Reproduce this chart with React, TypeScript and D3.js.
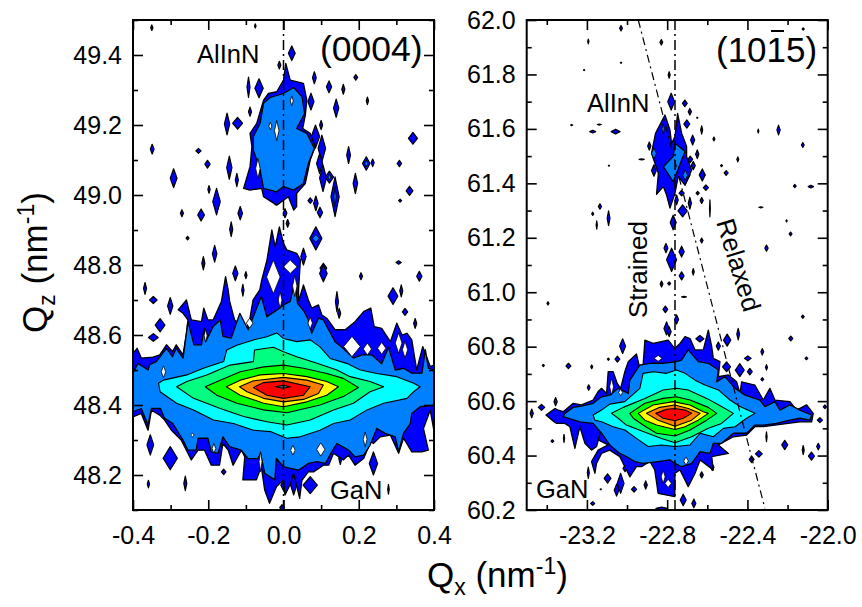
import { useEffect, useRef } from 'react'
import * as d3 from 'd3'

type Pt = [number, number]
type Speck = [number, number, number, number]

const levelColors = ['#0000ff', '#0080ff', '#00ffff', '#00ff80', '#00ff00', '#ffff00', '#ff8000', '#ff0000', '#808080']

// (0004) panel, contour outlines, [Qx, Qz]
const sym0Blue: Pt[] = [[-.4,48.548],[-.389,48.562],[-.378,48.534],[-.347,48.537],[-.329,48.543],[-.311,48.572],[-.295,48.553],[-.285,48.572],[-.267,48.543],[-.258,48.605],[-.254,48.643],[-.267,48.662],[-.28,48.672],[-.258,48.7],[-.245,48.643],[-.218,48.638],[-.212,48.677],[-.201,48.643],[-.187,48.643],[-.165,48.696],[-.154,48.767],[-.147,48.729],[-.143,48.696],[-.13,48.643],[-.099,48.619],[-.09,48.643],[-.081,48.7],[-.063,48.729],[-.058,48.757],[-.044,48.814],[-.031,48.9],[-.022,48.852],[-.011,48.909],[0,48.862],[.009,48.843],[.035,48.833],[.045,48.815],[.04,48.729],[.04,48.696],[.053,48.743],[.066,48.7],[.075,48.677],[.093,48.686],[.102,48.657],[.115,48.648],[.137,48.615],[.164,48.615],[.19,48.638],[.213,48.667],[.232,48.677],[.241,48.624],[.261,48.619],[.284,48.581],[.301,48.634],[.315,48.6],[.328,48.605],[.341,48.586],[.354,48.5],[.37,48.567],[.39,48.51],[.401,48.515],[.401,48.319],[.39,48.385],[.372,48.333],[.385,48.271],[.368,48.266],[.341,48.266],[.319,48.305],[.306,48.262],[.284,48.314],[.257,48.309],[.239,48.29],[.232,48.295],[.213,48.247],[.19,48.228],[.173,48.257],[.159,48.243],[.133,48.262],[.12,48.228],[.106,48.228],[.08,48.209],[.066,48.209],[.049,48.185],[.043,48.133],[.027,48.205],[.019,48.176],[.004,48.143],[0,48.186],[-.019,48.166],[-.037,48.119],[-.05,48.157],[-.059,48.224],[-.072,48.186],[-.108,48.186],[-.103,48.252],[-.112,48.271],[-.134,48.228],[-.147,48.271],[-.161,48.29],[-.17,48.228],[-.192,48.228],[-.21,48.271],[-.227,48.271],[-.245,48.243],[-.272,48.3],[-.298,48.328],[-.316,48.357],[-.329,48.371],[-.351,48.385],[-.36,48.328],[-.378,48.376],[-.4,48.366]]
const sym0Light: Pt[] = [[-.4,48.491],[-.387,48.519],[-.36,48.5],[-.356,48.515],[-.338,48.524],[-.311,48.562],[-.295,48.538],[-.285,48.562],[-.267,48.534],[-.254,48.638],[-.238,48.572],[-.218,48.572],[-.211,48.619],[-.207,48.581],[-.187,48.624],[-.168,48.643],[-.161,48.596],[-.139,48.591],[-.116,48.662],[-.094,48.615],[-.059,48.71],[-.044,48.652],[-.018,48.671],[0,48.686],[.018,48.696],[.031,48.757],[.037,48.691],[.055,48.667],[.066,48.643],[.075,48.605],[.093,48.648],[.106,48.643],[.137,48.581],[.158,48.562],[.186,48.534],[.208,48.543],[.235,48.543],[.261,48.518],[.279,48.565],[.297,48.5],[.319,48.505],[.341,48.491],[.368,48.491],[.377,48.558],[.385,48.505],[.4,48.5],[.401,48.4],[.363,48.395],[.341,48.376],[.337,48.347],[.319,48.319],[.306,48.266],[.297,48.309],[.27,48.319],[.248,48.333],[.23,48.285],[.213,48.257],[.19,48.252],[.173,48.271],[.142,48.29],[.128,48.266],[.111,48.233],[.089,48.238],[.066,48.233],[.04,48.214],[.018,48.219],[0,48.224],[-.019,48.247],[-.023,48.186],[-.05,48.205],[-.061,48.262],[-.068,48.247],[-.094,48.247],[-.112,48.271],[-.143,48.281],[-.161,48.309],[-.174,48.262],[-.192,48.266],[-.201,48.305],[-.227,48.305],[-.232,48.271],[-.254,48.271],[-.267,48.3],[-.294,48.347],[-.316,48.362],[-.327,48.39],[-.351,48.39],[-.36,48.343],[-.378,48.39],[-.4,48.381]]
const sym0Cyan: Pt[] = [[-.332,48.462],[-.319,48.471],[-.257,48.486],[-.213,48.505],[-.159,48.524],[-.151,48.557],[-.124,48.571],[-.08,48.586],[-.044,48.595],[-.018,48.606],[0,48.59],[.035,48.581],[.071,48.586],[.097,48.566],[.124,48.533],[.168,48.519],[.204,48.5],[.248,48.49],[.301,48.481],[.346,48.462],[.363,48.452],[.346,48.438],[.328,48.419],[.266,48.405],[.222,48.386],[.177,48.357],[.133,48.347],[.097,48.328],[.044,48.309],[.009,48.305],[-.035,48.324],[-.08,48.328],[-.133,48.347],[-.186,48.357],[-.239,48.386],[-.284,48.405],[-.328,48.438]]
const sym0Lime: Pt[] = [[-.284,48.452],[-.257,48.467],[-.204,48.486],[-.142,48.514],[-.08,48.524],[-.077,48.557],[-.027,48.565],[0,48.552],[.035,48.538],[.089,48.519],[.142,48.5],[.177,48.481],[.23,48.467],[.266,48.452],[.23,48.438],[.186,48.405],[.133,48.386],[.071,48.357],[.009,48.343],[-.044,48.352],[-.106,48.367],[-.168,48.39],[-.239,48.419]]
const sym0Green: Pt[] = [[-.208,48.452],[-.168,48.471],[-.115,48.495],[-.053,48.509],[0,48.514],[.053,48.505],[.115,48.49],[.159,48.476],[.199,48.45],[.159,48.424],[.097,48.4],[.009,48.378],[-.053,48.386],[-.124,48.405],[-.177,48.428]]
const sym0Yellow: Pt[] = [[-.152,48.452],[-.115,48.471],[-.062,48.486],[0,48.49],[.062,48.481],[.115,48.467],[.146,48.452],[.115,48.428],[.062,48.409],[0,48.395],[-.053,48.405],[-.115,48.428]]
const sym0Orange: Pt[] = [[-.117,48.452],[-.08,48.469],[0,48.479],[.062,48.471],[.106,48.457],[.093,48.433],[.053,48.416],[0,48.409],[-.053,48.419],[-.097,48.438]]
const sym0Red: Pt[] = [[-.08,48.45],[-.053,48.464],[0,48.469],[.071,48.452],[.053,48.428],[0,48.419],[-.044,48.428]]
const sym0Peak: Pt[] = [[-.022,48.452],[0,48.456],[.018,48.452],[0,48.448]]
const sym0LayerBlue: Pt[] = [[.006,49.376],[.018,49.328],[.053,49.319],[.062,49.271],[.058,49.228],[.051,49.19],[.071,49.176],[.084,49.138],[.071,49.1],[.058,49.033],[.035,49.005],[.035,48.967],[.027,48.957],[.013,48.995],[-.018,48.971],[-.053,48.995],[-.058,49.019],[-.089,49.014],[-.106,49.019],[-.089,49.081],[-.084,49.138],[-.089,49.176],[-.071,49.205],[-.053,49.271],[-.04,49.29],[-.018,49.295],[0,49.328]]
const sym0LayerLight: Pt[] = [[-.053,49.262],[-.035,49.279],[0,49.29],[.027,49.307],[.049,49.281],[.056,49.233],[.035,49.19],[.062,49.176],[.082,49.133],[.066,49.09],[.053,49.033],[.027,49.014],[0,49.024],[-.018,49.009],[-.053,49.019],[-.062,49.071],[-.08,49.128],[-.08,49.167],[-.062,49.205]]

// isolated noise islands as [Qx, Qz, half width, half height]
const sym0Specks: Speck[] = [[-.35,49.478,.003,.008],[-.075,49.483,.002,.006],[.022,49.405,.009,.021],[-.011,49.371,.004,.011],[.082,49.335,.005,.017],[.121,49.309,.007,.017],[.159,49.302,.004,.014],[.192,49.336,.005,.008],[.223,49.269,.003,.011],[.14,49.248,.007,.026],[-.093,49.308,.004,.029],[-.065,49.305,.011,.027],[.073,49.267,.008,.024],[-.15,49.203,.007,.031],[-.122,49.205,.013,.017],[-.089,49.238,.004,.013],[.1,49.2,.004,.013],[.085,49.167,.011,.033],[.102,49.133,.01,.038],[.344,49.162,.012,.017],[-.349,49.131,.005,.014],[-.226,49.126,.007,.007],[-.202,49.088,.007,.011],[-.144,49.078,.007,.033],[-.124,49.043,.004,.019],[-.292,49.048,.009,.027],[.173,49.114,.005,.024],[.22,49.09,.01,.019],[.237,49.092,.004,.011],[.308,49.09,.006,.009],[.096,49.09,.008,.029],[.105,49.048,.009,.038],[.122,49.051,.011,.017],[.137,48.995,.011,.057],[.191,49.033,.006,.029],[.335,49.012,.009,.013],[.31,48.984,.004,.004],[-.198,49.016,.003,.011],[-.178,48.981,.01,.038],[-.27,48.948,.004,.01],[-.219,48.943,.009,.017],[-.115,48.948,.006,.019],[-.139,48.902,.004,.021],[-.255,48.877,.004,.005],[.071,48.984,.006,.008],[.086,48.976,.006,.021],[.097,48.95,.007,.015],[-.022,48.986,.005,.014],[.004,48.948,.005,.013],[.011,48.919,.004,.011],[.086,48.876,.016,.033],[.053,48.824,.007,.024],[-.183,48.832,.006,.024],[-.213,48.805,.004,.019],[.306,48.807,.007,.005],[.106,48.791,.009,.014],[-.368,48.733,.004,.017],[-.346,48.7,.01,.01],[-.301,48.683,.007,.024],[-.128,48.776,.007,.021],[-.1,48.771,.003,.01],[-.108,48.728,.003,.017],[.106,48.776,.01,.024],[.206,48.768,.004,.01],[.361,48.768,.007,.014],[.313,48.726,.004,.017],[.291,48.711,.013,.024],[.323,48.666,.007,.01],[.35,48.633,.004,.014],[.142,48.695,.004,.029],[.148,48.662,.004,.014],[-.328,48.628,.013,.019],[-.346,48.593,.013,.011],[-.354,48.286,.009,.029],[-.301,48.248,.019,.033],[.239,48.233,.011,.033],[-.159,48.209,.006,.008],[-.359,48.174,.003,.011],[-.261,48.176,.004,.021],[.071,48.171,.019,.024],[.279,48.159,.002,.014],[-.004,48.107,.006,.008],[.151,48.247,.004,.017],[.027,48.181,.011,.038],[.004,48.171,.011,.024]]
const sym0Inner: Speck[] = [[.22,49.09,.004,.01],[.122,49.051,.004,.008],[.086,48.876,.009,.011],[.137,48.995,.003,.029]]
const sym0Holes: Speck[] = [[.022,49.269,.004,.014],[-.035,49.197,.004,.011],[-.018,49.184,.006,.029],[-.068,49.076,.006,.029],[-.319,48.495,.006,.017],[-.242,48.314,.005,.005],[-.185,48.276,.005,.014],[-.061,48.238,.004,.029],[.025,48.271,.006,.014],[.099,48.273,.011,.019],[.217,48.302,.005,.021],[.182,48.567,.022,.029],[.223,48.56,.011,.017],[.261,48.562,.011,.017],[.306,48.577,.009,.029],[.323,48.558,.007,.024],[.071,48.634,.006,.017],[-.207,48.598,.004,.019],[-.09,48.634,.009,.014],[-.027,48.766,.018,.048],[.018,48.795,.018,.019],[.03,48.74,.006,.03],[-.009,48.7,.005,.024]]

// (10-15) panel
const asymBlue: Pt[] = [[-23.404,60.549],[-23.359,60.573],[-23.343,60.567],[-23.318,60.561],[-23.268,60.592],[-23.227,60.586],[-23.169,60.604],[-23.144,60.635],[-23.127,60.647],[-23.102,60.628],[-23.094,60.708],[-23.069,60.708],[-23.049,60.665],[-23.032,60.647],[-23.011,60.708],[-22.994,60.745],[-22.953,60.773],[-22.94,60.732],[-22.92,60.732],[-22.911,60.824],[-22.87,60.812],[-22.795,60.824],[-22.762,60.794],[-22.736,60.812],[-22.711,60.837],[-22.686,60.83],[-22.661,60.788],[-22.62,60.788],[-22.595,60.861],[-22.578,60.8],[-22.57,60.757],[-22.537,60.745],[-22.545,60.69],[-22.495,60.696],[-22.454,60.671],[-22.437,60.628],[-22.429,60.671],[-22.363,60.659],[-22.321,60.604],[-22.288,60.647],[-22.263,60.604],[-22.188,60.598],[-22.155,60.567],[-22.105,60.586],[-22.072,60.555],[-22.08,60.524],[-22.138,60.524],[-22.197,60.518],[-22.263,60.512],[-22.321,60.506],[-22.363,60.506],[-22.404,60.475],[-22.47,60.469],[-22.545,60.439],[-22.495,60.408],[-22.578,60.396],[-22.57,60.347],[-22.636,60.384],[-22.661,60.335],[-22.695,60.286],[-22.736,60.347],[-22.761,60.335],[-22.762,60.249],[-22.845,60.261],[-22.862,60.347],[-22.886,60.378],[-22.928,60.359],[-22.953,60.359],[-22.986,60.322],[-23.011,60.359],[-23.036,60.396],[-23.086,60.42],[-23.127,60.408],[-23.152,60.371],[-23.16,60.335],[-23.177,60.378],[-23.144,60.42],[-23.094,60.439],[-23.144,60.457],[-23.127,60.5],[-23.152,60.433],[-23.177,60.42],[-23.21,60.445],[-23.235,60.506],[-23.26,60.426],[-23.285,60.506],[-23.31,60.518],[-23.351,60.518],[-23.364,60.524]]
const asymLight: Pt[] = [[-23.31,60.555],[-23.268,60.577],[-23.227,60.582],[-23.169,60.592],[-23.127,60.616],[-23.086,60.622],[-23.044,60.647],[-22.994,60.628],[-22.986,60.677],[-22.936,60.732],[-22.886,60.739],[-22.82,60.739],[-22.754,60.745],[-22.728,60.751],[-22.695,60.788],[-22.645,60.745],[-22.595,60.739],[-22.545,60.714],[-22.553,60.671],[-22.512,60.69],[-22.462,60.647],[-22.412,60.622],[-22.338,60.604],[-22.313,60.58],[-22.263,60.598],[-22.238,60.567],[-22.188,60.586],[-22.138,60.567],[-22.08,60.549],[-22.089,60.53],[-22.138,60.537],[-22.188,60.53],[-22.255,60.518],[-22.321,60.512],[-22.363,60.512],[-22.404,60.482],[-22.47,60.482],[-22.529,60.445],[-22.57,60.445],[-22.587,60.408],[-22.636,60.414],[-22.678,60.371],[-22.728,60.359],[-22.761,60.371],[-22.787,60.384],[-22.845,60.378],[-22.92,60.371],[-22.961,60.378],[-23.003,60.396],[-23.036,60.408],[-23.086,60.439],[-23.127,60.482],[-23.169,60.518],[-23.235,60.524],[-23.318,60.543]]
const asymCyan: Pt[] = [[-23.169,60.549],[-23.127,60.567],[-23.086,60.589],[-23.011,60.598],[-22.936,60.647],[-22.92,60.702],[-22.87,60.708],[-22.803,60.702],[-22.754,60.714],[-22.711,60.702],[-22.661,60.677],[-22.612,60.659],[-22.545,60.641],[-22.487,60.604],[-22.437,60.58],[-22.363,60.555],[-22.404,60.537],[-22.462,60.506],[-22.52,60.5],[-22.57,60.469],[-22.636,60.482],[-22.686,60.439],[-22.761,60.433],[-22.828,60.439],[-22.895,60.433],[-22.953,60.463],[-23.011,60.494],[-23.069,60.506],[-23.127,60.524],[-23.16,60.53]]
const asymLime: Pt[] = [[-23.077,60.555],[-23.019,60.577],[-22.911,60.61],[-22.82,60.641],[-22.754,60.647],[-22.695,60.641],[-22.603,60.61],[-22.529,60.58],[-22.47,60.555],[-22.529,60.518],[-22.595,60.5],[-22.678,60.469],[-22.761,60.447],[-22.828,60.463],[-22.92,60.488],[-23.003,60.512],[-23.044,60.537]]
const asymGreen: Pt[] = [[-22.986,60.555],[-22.911,60.592],[-22.82,60.61],[-22.754,60.616],[-22.686,60.604],[-22.595,60.577],[-22.553,60.555],[-22.603,60.53],[-22.686,60.494],[-22.761,60.472],[-22.853,60.482],[-22.92,60.512],[-22.969,60.537]]
const asymYellow: Pt[] = [[-22.944,60.555],[-22.87,60.586],[-22.77,60.598],[-22.686,60.586],[-22.62,60.561],[-22.595,60.555],[-22.645,60.53],[-22.711,60.506],[-22.761,60.496],[-22.853,60.512],[-22.911,60.53]]
const asymOrange: Pt[] = [[-22.903,60.555],[-22.837,60.577],[-22.762,60.586],[-22.695,60.573],[-22.636,60.555],[-22.678,60.53],[-22.761,60.508],[-22.845,60.53]]
const asymRed: Pt[] = [[-22.857,60.555],[-22.803,60.57],[-22.762,60.573],[-22.711,60.567],[-22.678,60.555],[-22.72,60.537],[-22.761,60.528],[-22.82,60.537]]
const asymLayerBlue: Pt[] = [[-22.858,61.584],[-22.811,61.651],[-22.786,61.596],[-22.778,61.547],[-22.761,61.572],[-22.748,61.657],[-22.728,61.584],[-22.703,61.535],[-22.703,61.498],[-22.678,61.449],[-22.711,61.394],[-22.745,61.425],[-22.761,61.364],[-22.786,61.309],[-22.803,61.357],[-22.819,61.388],[-22.853,61.36],[-22.844,61.437],[-22.878,61.51]]
const asymLayerLight: Pt[] = [[-22.761,61.547],[-22.711,61.517],[-22.728,61.486],[-22.77,61.406],[-22.819,61.461],[-22.77,61.498]]
const asymSpecks: Speck[] = [[-23.03,61.97,.007,.01],[-23.193,61.921,.003,.009],[-22.829,61.918,.007,.01],[-23.03,61.843,.003,.002],[-23.214,61.816,.003,.002],[-22.79,61.798,.005,.012],[-22.122,61.967,.005,.004],[-22.78,61.7,.017,.031],[-22.712,61.694,.012,.012],[-22.687,61.663,.008,.012],[-22.65,61.641,.003,.002],[-22.702,61.618,.015,.015],[-22.628,61.596,.005,.015],[-23.276,61.614,.005,.002],[-23.171,61.59,.015,.005],[-23.138,61.616,.01,.002],[-23.057,61.59,.022,.009],[-22.346,61.592,.003,.007],[-22.245,61.596,.008,.018],[-22.567,61.563,.005,.007],[-22.124,61.541,.007,.009],[-22.889,61.537,.008,.015],[-22.673,61.559,.01,.018],[-22.65,61.507,.008,.016],[-22.927,61.488,.013,.002],[-22.448,61.488,.005,.009],[-23.09,61.465,.003,.002],[-22.685,61.488,.012,.012],[-22.67,61.465,.01,.015],[-22.529,61.465,.005,.004],[-22.506,61.438,.01,.009],[-22.866,61.447,.012,.021],[-22.625,61.431,.015,.022],[-22.711,61.431,.025,.037],[-22.607,61.384,.013,.01],[-22.164,61.39,.007,.006],[-22.084,61.388,.013,.005],[-22.648,61.364,.008,.006],[-22.628,61.337,.008,.011],[-22.728,61.364,.013,.01],[-22.753,61.339,.008,.018],[-22.687,61.327,.008,.022],[-22.723,61.299,.023,.022],[-22.587,61.308,.002,.031],[-23.135,61.315,.008,.01],[-23.171,61.288,.005,.006],[-23.092,61.272,.007,.027],[-23.151,61.247,.003,.015],[-22.77,61.256,.015,.027],[-22.333,61.312,.01,.002],[-22.205,61.262,.003,.004],[-22.185,61.214,.007,.007],[-22.628,61.19,.007,.009],[-22.305,61.162,.008,.011],[-22.806,61.162,.01,.017],[-22.778,61.119,.025,.043],[-22.728,61.149,.013,.02],[-22.728,61.06,.012,.015],[-22.67,61.075,.005,.012],[-22.828,61.03,.007,.011],[-22.79,61.032,.007,.006],[-22.716,60.983,.012,.002],[-23.394,60.959,.005,.006],[-22.809,60.937,.012,.012],[-22.753,60.9,.01,.017],[-22.803,60.867,.013,.024],[-22.79,60.855,.01,.018],[-22.446,60.846,.007,.021],[-22.637,60.829,.02,.012],[-22.501,60.824,.018,.022],[-22.545,60.802,.01,.015],[-23.022,60.802,.015,.027],[-23.048,60.754,.012,.011],[-23.093,60.754,.005,.004],[-22.184,60.83,.01,.009],[-22.124,60.91,.007,.006],[-22.106,60.757,.007,.005],[-22.326,60.781,.007,.012],[-22.398,60.757,.017,.009],[-23.292,60.729,.012,.01],[-23.417,60.731,.005,.004],[-23.176,60.726,.005,.007],[-22.504,60.726,.02,.018],[-22.438,60.714,.022,.024],[-22.388,60.708,.012,.012],[-22.305,60.724,.005,.01],[-22.326,60.68,.007,.006],[-23.191,60.65,.007,.01],[-23.475,60.555,.008,.016],[-23.426,60.577,.016,.011],[-23.356,60.598,.008,.015],[-22.039,60.53,.013,.009],[-22.014,60.579,.008,.007],[-22.305,60.469,.003,.018],[-22.122,60.42,.005,.017],[-22.081,60.398,.015,.015],[-22.047,60.433,.008,.012],[-22.214,60.439,.015,.017],[-22.343,60.406,.017,.012],[-22.379,60.386,.012,.012],[-23.372,60.453,.007,.005],[-23.314,60.463,.003,.015],[-23.01,60.353,.01,.012],[-23.097,60.316,.017,.017],[-23.032,60.298,.017,.037],[-23.052,60.273,.012,.022],[-22.965,60.276,.013,.01],[-22.907,60.292,.008,.015],[-23.193,60.337,.005,.021],[-23.171,60.224,.01,.007],[-23.131,60.276,.003,.002],[-22.72,60.237,.015,.021],[-22.667,60.224,.01,.016],[-22.828,60.206,.028,.005],[-22.628,60.329,.008,.011],[-22.831,60.375,.005,.011],[-22.575,60.357,.008,.012]]
const asymHoles: Speck[] = [[-22.845,60.757,.02,.011],[-23.077,60.653,.01,.031],[-23.032,60.632,.01,.012],[-22.82,60.322,.01,.024],[-22.795,60.298,.016,.015],[-22.706,60.38,.012,.015]]
const asymInner: Speck[] = [[-22.866,61.51,.012,.02],[-22.82,61.6,.006,.02],[-22.71,61.43,.012,.02]]

// guide lines
const strainedLeft = 0
const strainedRight = -22.761
const relaxedLine: Pt[] = [[-22.944, 62], [-22.313, 60.206]]

const xMajorLeft = [-0.4, -0.2, 0, 0.2, 0.4]
const xMinorLeft = [-0.3, -0.1, 0.1, 0.3]
const yMajorLeft = [48.2, 48.4, 48.6, 48.8, 49.0, 49.2, 49.4]
const yMinorLeft = [48.1, 48.3, 48.5, 48.7, 48.9, 49.1, 49.3, 49.5]
const xMajorRight = [-23.2, -22.8, -22.4, -22.0]
const xMinorRight = [-23.4, -23.0, -22.6, -22.2]
const yMajorRight = [60.2, 60.4, 60.6, 60.8, 61.0, 61.2, 61.4, 61.6, 61.8, 62.0]
const yMinorRight = [60.3, 60.5, 60.7, 60.9, 61.1, 61.3, 61.5, 61.7, 61.9]

const FONT = '"Liberation Sans", Arial, sans-serif'

export default function App() {
  const ref = useRef<SVGSVGElement>(null)

  useEffect(() => {
    const svg = d3.select(ref.current)
    svg.selectAll('*').remove()
    svg.attr('font-family', FONT)

    const panel = (opts: any) => {
      const { xDomain, yDomain, left, right, id, levels, specks, inner, holes, layer, xMajor, xMinor, yMajor, yMinor, vLine, extra } = opts
      const top = 20
      const bottom = 510
      const x = d3.scaleLinear().domain(xDomain).range([left, right])
      const y = d3.scaleLinear().domain(yDomain).range([bottom, top])
      const line = d3.line<Pt>().x((d) => x(d[0])).y((d) => y(d[1])).curve(d3.curveLinearClosed)
      const diamond = (s: Speck): Pt[] => [[s[0] - s[2], s[1]], [s[0], s[1] + s[3]], [s[0] + s[2], s[1]], [s[0], s[1] - s[3]]]

      svg.append('clipPath').attr('id', id).append('rect')
        .attr('x', left).attr('y', top).attr('width', right - left).attr('height', bottom - top)
      const g = svg.append('g').attr('clip-path', `url(#${id})`)

      const blob = (pts: Pt[], fill: string, sw = 1.3) => {
        g.append('path').attr('d', line(pts)).attr('fill', fill)
          .attr('stroke', '#000').attr('stroke-width', sw).attr('stroke-linejoin', 'round')
      }

      specks.forEach((s: Speck) => blob(diamond(s), levelColors[0], 1.2))
      blob(levels[0], levelColors[0])
      blob(layer[0], levelColors[0])
      inner.forEach((s: Speck) => blob(diamond(s), levelColors[1], 0.8))
      blob(levels[1], levelColors[1])
      blob(layer[1], levelColors[1])
      holes.forEach((s: Speck) => blob(diamond(s), '#fff', 0.8))
      levels.slice(2).forEach((pts: Pt[], i: number) => blob(pts, levelColors[i + 2], 1.1))

      // guide lines
      svg.append('line').attr('x1', x(vLine)).attr('x2', x(vLine)).attr('y1', top).attr('y2', bottom)
        .attr('stroke', '#000').attr('stroke-width', 1.5).attr('stroke-dasharray', '10,4,2,4')
      if (extra) {
        svg.append('line').attr('x1', x(extra[0][0])).attr('y1', y(extra[0][1]))
          .attr('x2', x(extra[1][0])).attr('y2', y(extra[1][1]))
          .attr('stroke', '#000').attr('stroke-width', 1.2).attr('stroke-dasharray', '8,4,2,4')
      }

      // frame and ticks on all four sides
      const styleAxis = (sel: any) => {
        sel.select('.domain').remove()
        sel.selectAll('line').attr('stroke', '#000').attr('stroke-width', 1.6)
      }
      const tickSets = [
        { vals: xMajor, size: 10, labels: true },
        { vals: xMinor, size: 5, labels: false },
      ]
      tickSets.forEach((t) => {
        const b = d3.axisBottom(x).tickValues(t.vals).tickSizeInner(-t.size).tickSizeOuter(0).tickPadding(16)
          .tickFormat(t.labels ? (d3.format('.1f') as any) : () => '')
        const ga = svg.append('g').attr('transform', `translate(0,${bottom})`).call(b as any).call(styleAxis)
        ga.selectAll('text').attr('font-size', 25).attr('font-family', FONT).attr('fill', '#000')
          .text((d: any) => d3.format('.1f')(d).replace('\u2212', '-'))
        if (!t.labels) ga.selectAll('text').remove()
        const a = d3.axisTop(x).tickValues(t.vals).tickSizeInner(-t.size).tickSizeOuter(0).tickFormat(() => '')
        svg.append('g').attr('transform', `translate(0,${top})`).call(a as any).call(styleAxis)
      })
      const ySets = [
        { vals: yMajor, size: 10, labels: true },
        { vals: yMinor, size: 5, labels: false },
      ]
      ySets.forEach((t) => {
        const l = d3.axisLeft(y).tickValues(t.vals).tickSizeInner(-t.size).tickSizeOuter(0).tickPadding(11)
          .tickFormat(t.labels ? (d3.format('.1f') as any) : () => '')
        const ga = svg.append('g').attr('transform', `translate(${left},0)`).call(l as any).call(styleAxis)
        ga.selectAll('text').attr('font-size', 25).attr('font-family', FONT).attr('fill', '#000')
        if (!t.labels) ga.selectAll('text').remove()
        const r = d3.axisRight(y).tickValues(t.vals).tickSizeInner(-t.size).tickSizeOuter(0).tickFormat(() => '')
        svg.append('g').attr('transform', `translate(${right},0)`).call(r as any).call(styleAxis)
      })
      svg.append('rect').attr('x', left).attr('y', top).attr('width', right - left).attr('height', bottom - top)
        .attr('fill', 'none').attr('stroke', '#000').attr('stroke-width', 2)
    }

    panel({
      id: 'clip-sym', xDomain: [-0.4, 0.4], yDomain: [48.1, 49.5], left: 133, right: 434,
      levels: [sym0Blue, sym0Light, sym0Cyan, sym0Lime, sym0Green, sym0Yellow, sym0Orange, sym0Red, sym0Peak],
      layer: [sym0LayerBlue, sym0LayerLight], specks: sym0Specks, inner: sym0Inner, holes: sym0Holes,
      xMajor: xMajorLeft, xMinor: xMinorLeft, yMajor: yMajorLeft, yMinor: yMinorLeft, vLine: strainedLeft,
    })
    panel({
      id: 'clip-asym', xDomain: [-23.5, -22], yDomain: [60.2, 62], left: 526.7, right: 827.7,
      levels: [asymBlue, asymLight, asymCyan, asymLime, asymGreen, asymYellow, asymOrange, asymRed],
      layer: [asymLayerBlue, asymLayerLight], specks: asymSpecks, inner: asymInner, holes: asymHoles,
      xMajor: xMajorRight, xMinor: xMinorRight, yMajor: yMajorRight, yMinor: yMinorRight, vLine: strainedRight, extra: relaxedLine,
    })

    const label = (txt: string, px: number, py: number, size: number, rot = 0) =>
      svg.append('text').attr('transform', `translate(${px},${py}) rotate(${rot})`)
        .attr('font-size', size).attr('fill', '#000').text(txt)

    label('AlInN', 197, 63, 25.5)
    label('(0004)', 320, 61, 35.5)
    label('GaN', 330, 499, 25.5)
    label('AlInN', 587, 112, 25.5)
    label('(1015)', 716, 62, 35)
    svg.append('line').attr('x1', 771).attr('x2', 784).attr('y1', 31).attr('y2', 31).attr('stroke', '#000').attr('stroke-width', 2)
    label('GaN', 536, 498, 25.5)
    label('Strained', 647, 318, 26, -90)
    label('Relaxed', 716, 222, 26, 73)

    // axis titles with sub and superscripts
    const title = (base: string, sub: string, px: number, py: number, rot: number) => {
      const t = svg.append('text').attr('transform', `translate(${px},${py}) rotate(${rot})`)
        .attr('font-size', 35).attr('fill', '#000')
      t.append('tspan').text(base)
      t.append('tspan').attr('font-size', 23).attr('dy', 8).text(sub)
      t.append('tspan').attr('dy', -8).text(' (nm')
      t.append('tspan').attr('font-size', 23).attr('dy', -13).text('-1')
      t.append('tspan').attr('dy', 13).text(')')
    }
    title('Q', 'x', 427, 587, 0)
    title('Q', 'z', 47, 333, -90)
  }, [])

  return <svg ref={ref} width={862} height={607} style={{ position: 'absolute', left: 0, top: 0, background: '#fff' }} />
}
